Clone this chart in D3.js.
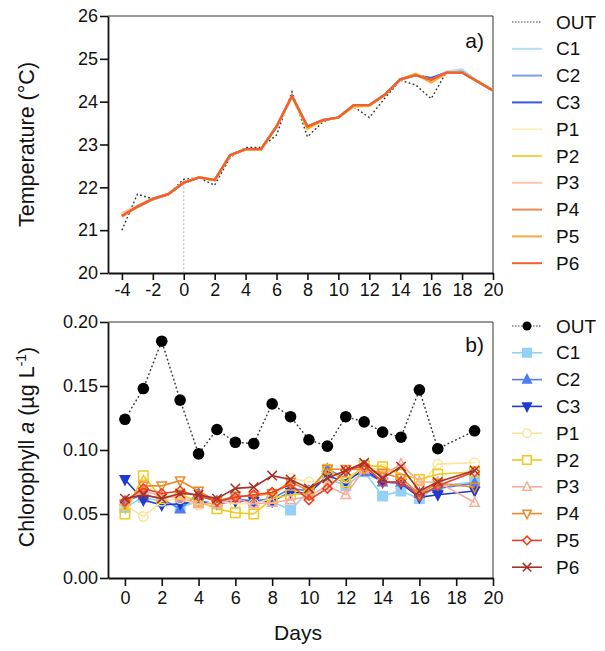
<!DOCTYPE html>
<html>
<head>
<meta charset="utf-8">
<script src="https://cdn.jsdelivr.net/npm/d3@7"></script>
<style>
  body { margin: 0; background: #fff; }
  svg text { font-family: "Liberation Sans", Arial, sans-serif; fill: #111; }
</style>
</head>
<body>
<svg id="chart" width="605" height="651"></svg>
<script>
// ---- data ----
var series = ["C1", "C2", "C3", "P1", "P2", "P3", "P4", "P5", "P6"]

// panel a) temperature, days -4..20
var tempDays = [-4, -3, -2, -1, 0, 1, 2, 3, 4, 5, 6, 7, 8, 9, 10, 11, 12, 13, 14, 15, 16, 17, 18, 19, 20]
var tempOUT = [21.00, 21.84, 21.73, 21.84, 22.19, 22.22, 22.05, 22.70, 22.93, 22.93, 23.22, 24.23, 23.18, 23.53, 23.65, 23.88, 23.63, 24.08, 24.50, 24.39, 24.07, 24.70, 24.74, 24.47, 24.26]
var tempC1 = [21.39, 21.53, 21.72, 21.84, 22.11, 22.23, 22.17, 22.75, 22.89, 22.89, 23.42, 24.13, 23.40, 23.57, 23.63, 23.92, 23.92, 24.16, 24.52, 24.62, 24.53, 24.70, 24.76, 24.47, 24.26]
var tempC2 = [21.37, 21.54, 21.72, 21.84, 22.11, 22.23, 22.17, 22.75, 22.89, 22.89, 23.42, 24.13, 23.41, 23.57, 23.63, 23.92, 23.92, 24.16, 24.52, 24.62, 24.54, 24.68, 24.70, 24.47, 24.26]
var tempC3 = [21.35, 21.55, 21.73, 21.84, 22.11, 22.23, 22.17, 22.75, 22.89, 22.89, 23.42, 24.13, 23.42, 23.57, 23.63, 23.92, 23.92, 24.16, 24.52, 24.62, 24.55, 24.68, 24.68, 24.47, 24.26]
var tempP1 = [21.36, 21.56, 21.74, 21.85, 22.12, 22.24, 22.17, 22.75, 22.89, 22.89, 23.42, 24.13, 23.39, 23.57, 23.63, 23.90, 23.92, 24.16, 24.52, 24.64, 24.50, 24.68, 24.68, 24.47, 24.26]
var tempP2 = [21.34, 21.55, 21.73, 21.84, 22.11, 22.23, 22.17, 22.75, 22.88, 22.88, 23.42, 24.12, 23.36, 23.56, 23.63, 23.88, 23.90, 24.16, 24.52, 24.66, 24.46, 24.67, 24.68, 24.47, 24.26]
var tempP3 = [21.40, 21.57, 21.74, 21.85, 22.11, 22.23, 22.17, 22.75, 22.89, 22.89, 23.42, 24.13, 23.42, 23.57, 23.63, 23.92, 23.92, 24.16, 24.52, 24.62, 24.51, 24.68, 24.68, 24.47, 24.26]
var tempP4 = [21.33, 21.55, 21.73, 21.84, 22.11, 22.23, 22.17, 22.75, 22.89, 22.89, 23.42, 24.13, 23.42, 23.57, 23.63, 23.92, 23.92, 24.16, 24.52, 24.62, 24.50, 24.68, 24.68, 24.47, 24.26]
var tempP5 = [21.32, 21.54, 21.73, 21.84, 22.11, 22.23, 22.17, 22.75, 22.89, 22.89, 23.42, 24.13, 23.38, 23.57, 23.63, 23.90, 23.91, 24.16, 24.52, 24.64, 24.45, 24.67, 24.68, 24.47, 24.26]
var tempP6 = [21.33, 21.55, 21.73, 21.84, 22.11, 22.23, 22.17, 22.75, 22.89, 22.89, 23.42, 24.13, 23.42, 23.57, 23.63, 23.92, 23.92, 24.16, 24.52, 24.62, 24.51, 24.68, 24.68, 24.47, 24.26]

// panel b) chlorophyll a, no sample on day 18
var chlDays = [0, 1, 2, 3, 4, 5, 6, 7, 8, 9, 10, 11, 12, 13, 14, 15, 16, 17, 19]
var chlOUT = [0.124, 0.148, 0.185, 0.139, 0.097, 0.116, 0.106, 0.105, 0.136, 0.126, 0.108, 0.103, 0.126, 0.122, 0.114, 0.110, 0.147, 0.101, 0.115]
var chlC1 = [0.055, 0.063, 0.060, 0.055, 0.060, 0.058, 0.062, 0.060, 0.060, 0.053, 0.068, 0.078, 0.072, 0.083, 0.064, 0.068, 0.062, 0.072, 0.075]
var chlC2 = [0.060, 0.065, 0.062, 0.054, 0.066, 0.060, 0.062, 0.060, 0.062, 0.070, 0.068, 0.085, 0.078, 0.083, 0.075, 0.075, 0.066, 0.070, 0.074]
var chlC3 = [0.077, 0.061, 0.057, 0.058, 0.060, 0.058, 0.060, 0.060, 0.060, 0.067, 0.066, 0.080, 0.075, 0.085, 0.075, 0.074, 0.063, 0.065, 0.068]
var chlP1 = [0.057, 0.048, 0.060, 0.062, 0.057, 0.060, 0.058, 0.058, 0.062, 0.078, 0.075, 0.075, 0.078, 0.086, 0.085, 0.082, 0.072, 0.089, 0.090]
var chlP2 = [0.050, 0.080, 0.062, 0.065, 0.060, 0.054, 0.051, 0.050, 0.062, 0.065, 0.066, 0.085, 0.075, 0.088, 0.087, 0.081, 0.077, 0.081, 0.083]
var chlP3 = [0.060, 0.068, 0.064, 0.063, 0.058, 0.058, 0.062, 0.058, 0.059, 0.061, 0.064, 0.072, 0.065, 0.085, 0.080, 0.089, 0.075, 0.075, 0.059]
var chlP4 = [0.058, 0.072, 0.072, 0.076, 0.068, 0.060, 0.064, 0.064, 0.066, 0.075, 0.068, 0.085, 0.085, 0.085, 0.082, 0.078, 0.066, 0.074, 0.071]
var chlP5 = [0.060, 0.070, 0.066, 0.068, 0.064, 0.060, 0.063, 0.065, 0.067, 0.073, 0.061, 0.070, 0.084, 0.088, 0.075, 0.075, 0.064, 0.072, 0.083]
var chlP6 = [0.062, 0.065, 0.062, 0.066, 0.065, 0.062, 0.070, 0.071, 0.080, 0.077, 0.070, 0.078, 0.084, 0.090, 0.078, 0.087, 0.068, 0.075, 0.084]

var tempTicksY = [20, 21, 22, 23, 24, 25, 26]
var tempTicksX = [-4, -2, 0, 2, 4, 6, 8, 10, 12, 14, 16, 18, 20]
var chlTicksY = [0, 0.05, 0.10, 0.15, 0.20]
var chlTicksX = [0, 2, 4, 6, 8, 10, 12, 14, 16, 18, 20]

// ---- styles ----
var tempColors = ["#b3dff8", "#7c9ff0", "#3557dc", "#fdefc2", "#f5d442", "#fcc6ae", "#ea8a58", "#fba63e", "#f35f2c"]
var chlColors = ["#93d2f6", "#4f7ef0", "#1f3ad0", "#fde49a", "#f0c81e", "#fbab98", "#ef8a2c", "#ee3f22", "#a5322a"]
var chlShapes = ["square", "up", "down", "circle", "square", "up", "down", "diamond", "cross"]
var chlFilled = [true, true, true, false, false, false, false, false, false]

var tempData = [tempC1, tempC2, tempC3, tempP1, tempP2, tempP3, tempP4, tempP5, tempP6]
var chlData = [chlC1, chlC2, chlC3, chlP1, chlP2, chlP3, chlP4, chlP5, chlP6]

var svg = d3.select("#chart")
var left = 108, right = 493
var legX = 512, legRow = 26.8

function markerPath(shape, s) {
    switch(shape) {
        case "circle":
            return d3.symbol(d3.symbolCircle, Math.PI * s * s)()
        case "square":
            return "M" + (-s) + "," + (-s) + "h" + (2 * s) + "v" + (2 * s) + "h" + (-2 * s) + "Z"
        case "up":
            return "M0," + (-s * 1.15) + "L" + s + "," + (s * 0.8) + "L" + (-s) + "," + (s * 0.8) + "Z"
        case "down":
            return "M0," + (s * 1.15) + "L" + s + "," + (-s * 0.8) + "L" + (-s) + "," + (-s * 0.8) + "Z"
        case "diamond":
            return "M0," + (-s) + "L" + s + ",0L0," + s + "L" + (-s) + ",0Z"
        case "cross":
            return "M" + (-s) + "," + (-s) + "L" + s + "," + s + "M" + s + "," + (-s) + "L" + (-s) + "," + s
    }
}

function drawFrame(g, top, bottom) {
    // thin box on the top and right
    g.append("line").attr("x1", left).attr("x2", right).attr("y1", top).attr("y2", top)
        .style("stroke", "#333").style("stroke-width", 1)
    g.append("line").attr("x1", right).attr("x2", right).attr("y1", top).attr("y2", bottom)
        .style("stroke", "#333").style("stroke-width", 1)
}

function styleAxis(a) {
    a.selectAll("path, line").style("stroke", "#111").style("stroke-width", 1.6)
    a.selectAll("text").style("font-size", "18px").style("fill", "#111")
    a.select(".domain").style("stroke-width", 1.8)
}

// plain hyphen for negatives, like the original
var plain = d => String(d)

// ---------------- panel a ----------------
var topA = 16, botA = 273
var xA = d3.scaleLinear().domain([-4.9, 20]).range([left, right])
var yA = d3.scaleLinear().domain([20, 26]).range([botA, topA])
var gA = svg.append("g")

drawFrame(gA, topA, botA)

gA.append("g").attr("transform", "translate(0," + botA + ")")
    .call(d3.axisBottom(xA).tickValues(tempTicksX).tickSize(7).tickSizeOuter(0).tickPadding(3).tickFormat(plain))
    .call(styleAxis)
gA.append("g").attr("transform", "translate(" + left + ",0)")
    .call(d3.axisLeft(yA).tickValues(tempTicksY).tickSize(8).tickSizeOuter(0).tickPadding(2).tickFormat(plain))
    .call(styleAxis)

// day 0 reference
gA.append("line")
    .attr("x1", xA(0)).attr("x2", xA(0))
    .attr("y1", yA(tempOUT[tempDays.indexOf(0)])).attr("y2", yA(20))
    .style("stroke", "#999").style("stroke-width", 0.8).style("stroke-dasharray", "2,2")

var lineA = d3.line().x((d, i) => xA(tempDays[i])).y(d => yA(d))

gA.append("path").datum(tempOUT).attr("d", lineA)
    .style("fill", "none").style("stroke", "#333").style("stroke-width", 1.4).style("stroke-dasharray", "1.8,2.4")

tempData.forEach(function(vals, i) {
    gA.append("path").datum(vals).attr("d", lineA)
        .style("fill", "none").style("stroke", tempColors[i]).style("stroke-width", 2.3)
})

gA.append("text").attr("x", 484).attr("y", 48).attr("text-anchor", "end")
    .style("font-size", "21px").text("a)")

gA.append("text").attr("transform", "translate(34," + ((topA + botA) / 2) + ") rotate(-90)")
    .attr("text-anchor", "middle").style("font-size", "21.5px").text("Temperature (°C)")

// legend a
var legA = gA.append("g")
var legTopA = 22
legA.append("line").attr("x1", legX).attr("x2", legX + 30).attr("y1", legTopA).attr("y2", legTopA)
    .style("stroke", "#444").style("stroke-width", 1.2).style("stroke-dasharray", "1.5,1.5")
legA.append("text").attr("x", 556).attr("y", legTopA).attr("dy", "0.35em").style("font-size", "19px").text("OUT")
series.forEach(function(name, i) {
    var yy = legTopA + legRow * (i + 1)
    legA.append("line").attr("x1", legX).attr("x2", legX + 30).attr("y1", yy).attr("y2", yy)
        .style("stroke", tempColors[i]).style("stroke-width", 2)
    legA.append("text").attr("x", 556).attr("y", yy).attr("dy", "0.35em").style("font-size", "19px").text(name)
})

// ---------------- panel b ----------------
var topB = 322, botB = 578
var xB = d3.scaleLinear().domain([-0.92, 20]).range([left, right])
var yB = d3.scaleLinear().domain([0, 0.20]).range([botB, topB])
var gB = svg.append("g")

drawFrame(gB, topB, botB)

gB.append("g").attr("transform", "translate(0," + botB + ")")
    .call(d3.axisBottom(xB).tickValues(chlTicksX).tickSize(8).tickSizeOuter(0).tickPadding(5).tickFormat(plain))
    .call(styleAxis)
gB.append("g").attr("transform", "translate(" + left + ",0)")
    .call(d3.axisLeft(yB).tickValues(chlTicksY).tickSize(8).tickSizeOuter(0).tickPadding(2).tickFormat(d3.format(".2f")))
    .call(styleAxis)

var lineB = d3.line().x((d, i) => xB(chlDays[i])).y(d => yB(d))

chlData.forEach(function(vals, i) {
    var sg = gB.append("g")
    sg.append("path").datum(vals).attr("d", lineB)
        .style("fill", "none").style("stroke", chlColors[i]).style("stroke-width", 1.6)
    sg.selectAll("path.mk").data(vals).enter().append("path").attr("class", "mk")
        .attr("transform", (d, j) => "translate(" + xB(chlDays[j]) + "," + yB(d) + ")")
        .attr("d", markerPath(chlShapes[i], 4.7))
        .style("fill", chlFilled[i] ? chlColors[i] : "none")
        .style("stroke", chlColors[i]).style("stroke-width", 1.5)
})

gB.append("path").datum(chlOUT).attr("d", lineB)
    .style("fill", "none").style("stroke", "#333").style("stroke-width", 1.4).style("stroke-dasharray", "1.8,2.4")
gB.selectAll("circle.out").data(chlOUT).enter().append("circle").attr("class", "out")
    .attr("cx", (d, j) => xB(chlDays[j])).attr("cy", d => yB(d)).attr("r", 5.8)
    .style("fill", "#000")

gB.append("text").attr("x", 484).attr("y", 352).attr("text-anchor", "end")
    .style("font-size", "21px").text("b)")

var yt = gB.append("text").attr("transform", "translate(34," + ((topB + botB) / 2 - 3) + ") rotate(-90)")
    .attr("text-anchor", "middle").style("font-size", "21.5px")
yt.append("tspan").text("Chlorophyll ")
yt.append("tspan").style("font-style", "italic").text("a")
yt.append("tspan").text(" (µg L")
yt.append("tspan").attr("dy", -8).style("font-size", "14px").text("-1")
yt.append("tspan").attr("dy", 8).text(")")

gB.append("text").attr("x", 298).attr("y", 640).attr("text-anchor", "middle")
    .style("font-size", "21px").text("Days")

// legend b
var legB = gB.append("g")
var legTopB = 326
legB.append("line").attr("x1", legX).attr("x2", legX + 30).attr("y1", legTopB).attr("y2", legTopB)
    .style("stroke", "#444").style("stroke-width", 1.2).style("stroke-dasharray", "1.5,1.5")
legB.append("circle").attr("cx", legX + 15).attr("cy", legTopB).attr("r", 4.5).style("fill", "#000")
legB.append("text").attr("x", 556).attr("y", legTopB).attr("dy", "0.35em").style("font-size", "19px").text("OUT")
series.forEach(function(name, i) {
    var yy = legTopB + legRow * (i + 1)
    legB.append("line").attr("x1", legX).attr("x2", legX + 30).attr("y1", yy).attr("y2", yy)
        .style("stroke", chlColors[i]).style("stroke-width", 1.6)
    legB.append("path").attr("transform", "translate(" + (legX + 15) + "," + yy + ")")
        .attr("d", markerPath(chlShapes[i], 4.3))
        .style("fill", chlFilled[i] ? chlColors[i] : "#fff")
        .style("stroke", chlColors[i]).style("stroke-width", 1.5)
    legB.append("text").attr("x", 556).attr("y", yy).attr("dy", "0.35em").style("font-size", "19px").text(name)
})
</script>
</body>
</html>
